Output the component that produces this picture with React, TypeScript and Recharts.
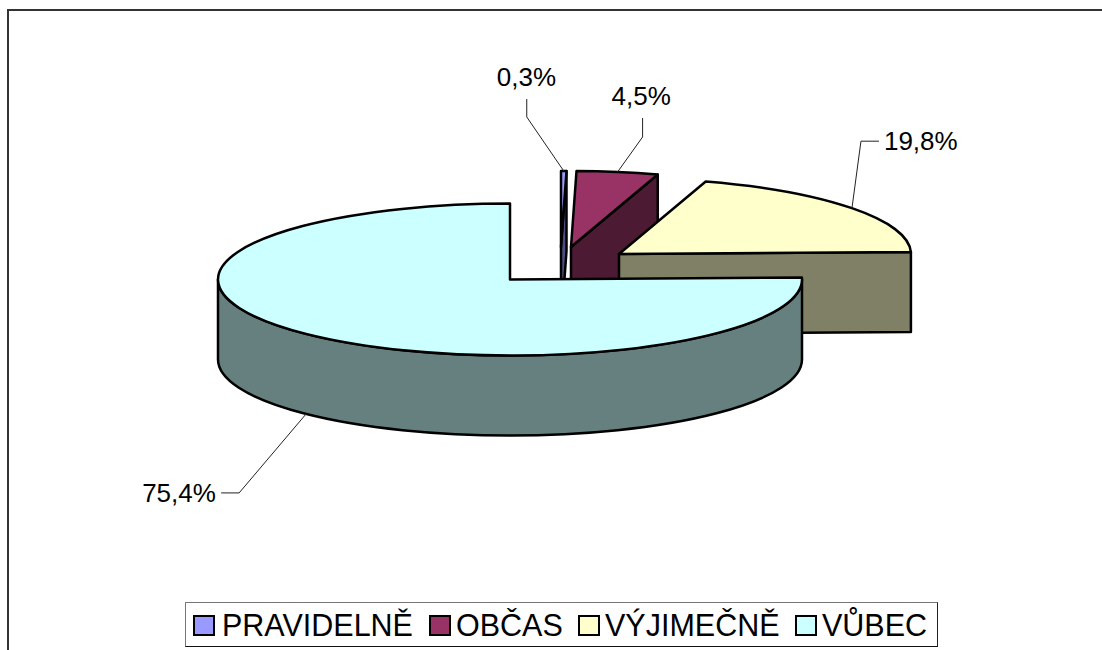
import React from "react";
import { PieChart, Pie, Legend } from "recharts";

const CATEGORIES = ["PRAVIDELNĚ", "OBČAS", "VÝJIMEČNĚ", "VŮBEC"];
const VALUES = [0.3, 4.5, 19.8, 75.4];
const COLORS = ["#9999FF", "#993366", "#FFFFCC", "#CCFFFF"];
const WALL_COLORS = ["#4D4D80", "#4D1A33", "#808066", "#668080"];

// Look of the tilted, exploded pie
const SQUASH = 76 / 292;
const DEPTH = 80;
const EXPLODE = [
  { dx: 51, dy: -32 },
  { dx: 61, dy: -32 },
  { dx: 109, dy: -25 },
  { dx: 0, dy: 0.5 },
];
const STROKE = 2.5;

// Leader lines relative to the slice anchor: elbow, line end, text start + baseline
const LEADERS = [
  { ex: -37, ey: -54, lx: -37, ly: -72, tx: -67, ty: -85 },
  { ex: 25, ey: -35, lx: 25, ly: -54, tx: -6, ty: -67 },
  { ex: 9, ey: -67, lx: 27, ly: -67, tx: 32, ty: -58 },
  { ex: -67, ey: 79, lx: -85, ly: 79, tx: -164, ty: 88 },
];

const LEGEND_ITEMS_X = [
  { icon: 7, text: 36 },
  { icon: 243, text: 270 },
  { icon: 392, text: 419 },
  { icon: 609, text: 636 },
];

const chartData = CATEGORIES.map((name, i) => ({
  name,
  value: VALUES[i],
  fill: COLORS[i],
}));

const rad = (a: number) => (a * Math.PI) / 180;

function SliceShape(props: any) {
  const { cx, cy, outerRadius: r, startAngle: s, endAngle: e, index } = props;
  const i = index ?? CATEGORIES.indexOf(props.name ?? props.payload?.name);
  const ox = cx + EXPLODE[i].dx;
  const oy = cy + EXPLODE[i].dy;
  const ry = r * SQUASH;
  const pt = (a: number, down = 0) =>
    [ox + r * Math.cos(rad(a)), oy - ry * Math.sin(rad(a)) + down] as const;
  const [sx, sy] = pt(s);
  const [ex, ey] = pt(e);
  const large = Math.abs(s - e) > 180 ? 1 : 0;
  const top = `M${ox},${oy} L${sx},${sy} A${r},${ry} 0 ${large} 1 ${ex},${ey} Z`;
  const style = {
    stroke: "#000",
    strokeWidth: STROKE,
    strokeLinejoin: "round" as const,
  };

  const walls: string[] = [];
  // Curved outer wall: the part of the slice on the front half of the ellipse
  const lo = Math.max(e, -180);
  const hi = Math.min(s, 0);
  if (hi > lo) {
    const [ax, ay] = pt(hi);
    const [bx, by] = pt(lo);
    const [cx2, cy2] = pt(lo, DEPTH);
    const [dx2, dy2] = pt(hi, DEPTH);
    walls.push(
      `M${ax},${ay} A${r},${ry} 0 0 1 ${bx},${by} L${cx2},${cy2} A${r},${ry} 0 0 0 ${dx2},${dy2} Z`
    );
  }
  // Flat cut face at the clockwise end of the slice, when it faces the viewer
  const norm = ((e % 360) + 360) % 360;
  if (norm < 89.9 || norm > 270.1) {
    const [bx, by] = pt(e, DEPTH);
    walls.push(`M${ox},${oy} L${ex},${ey} L${bx},${by} L${ox},${oy + DEPTH} Z`);
  }

  return (
    <g>
      {walls.map((d, k) => (
        <path key={k} d={d} fill={WALL_COLORS[i]} {...style} />
      ))}
      <path d={top} fill={COLORS[i]} {...style} />
    </g>
  );
}

function SliceLabel(props: any) {
  const { cx, cy, outerRadius: r, midAngle, index, value } = props;
  const i = index;
  const ry = r * SQUASH;
  const sin = Math.sin(rad(midAngle));
  const ax = cx + EXPLODE[i].dx + r * Math.cos(rad(midAngle));
  const ay = cy + EXPLODE[i].dy - ry * sin + (sin < 0 ? DEPTH : 0);
  const l = LEADERS[i];
  return (
    <g>
      <polyline
        points={`${ax},${ay} ${ax + l.ex},${ay + l.ey} ${ax + l.lx},${ay + l.ly}`}
        fill="none"
        stroke="#222"
        strokeWidth={1}
      />
      <text
        x={ax + l.tx}
        y={ay + l.ty}
        textAnchor="start"
        fontFamily="'Liberation Sans', Arial, sans-serif"
        fontSize={26}
        fill="#000"
      >
        {`${Number(value).toFixed(1).replace(".", ",")}%`}
      </text>
    </g>
  );
}

function LegendBox() {
  return (
    <div
      style={{
        position: "relative",
        width: 753,
        height: 45,
        boxSizing: "border-box",
        background: "#fff",
        borderTop: "1px solid #777",
        borderLeft: "1px solid #777",
        borderRight: "1.5px solid #222",
        borderBottom: "1.5px solid #111",
        fontFamily: "'Liberation Sans', Arial, sans-serif",
        fontSize: 30.5,
        color: "#000",
      }}
    >
      {CATEGORIES.map((name, i) => (
        <React.Fragment key={name}>
          <div
            style={{
              position: "absolute",
              left: LEGEND_ITEMS_X[i].icon,
              top: 12,
              width: 22,
              height: 21,
              boxSizing: "border-box",
              background: COLORS[i],
              border: "2.5px solid #000",
            }}
          />
          <div
            style={{
              position: "absolute",
              left: LEGEND_ITEMS_X[i].text,
              top: 5,
              lineHeight: "34px",
              whiteSpace: "nowrap",
            }}
          >
            {name}
          </div>
        </React.Fragment>
      ))}
    </div>
  );
}

export default function App() {
  return (
    <div
      style={{
        position: "fixed",
        left: 0,
        top: 0,
        width: 1102,
        height: 650,
        overflow: "hidden",
        background: "#fff",
      }}
    >
      <div
        style={{
          position: "absolute",
          left: 7,
          top: 9,
          width: 1100,
          height: 660,
          borderTop: "2px solid #333",
          borderLeft: "2px solid #333",
        }}
      />
      <div style={{ position: "absolute", left: 0, top: 0 }}>
        <PieChart
          width={1102}
          height={650}
          margin={{ top: 0, right: 0, bottom: 0, left: 0 }}
        >
          <Pie
            data={chartData}
            dataKey="value"
            nameKey="name"
            cx={510}
            cy={279}
            innerRadius={0}
            outerRadius={292}
            startAngle={90}
            endAngle={-270}
            isAnimationActive={false}
            stroke="#000"
            shape={SliceShape}
            label={SliceLabel}
            labelLine={false}
          />
          <Legend
            content={() => <LegendBox />}
            wrapperStyle={{ position: "absolute", left: 185, top: 602, width: 753, bottom: "auto" }}
          />
        </PieChart>
      </div>
    </div>
  );
}
